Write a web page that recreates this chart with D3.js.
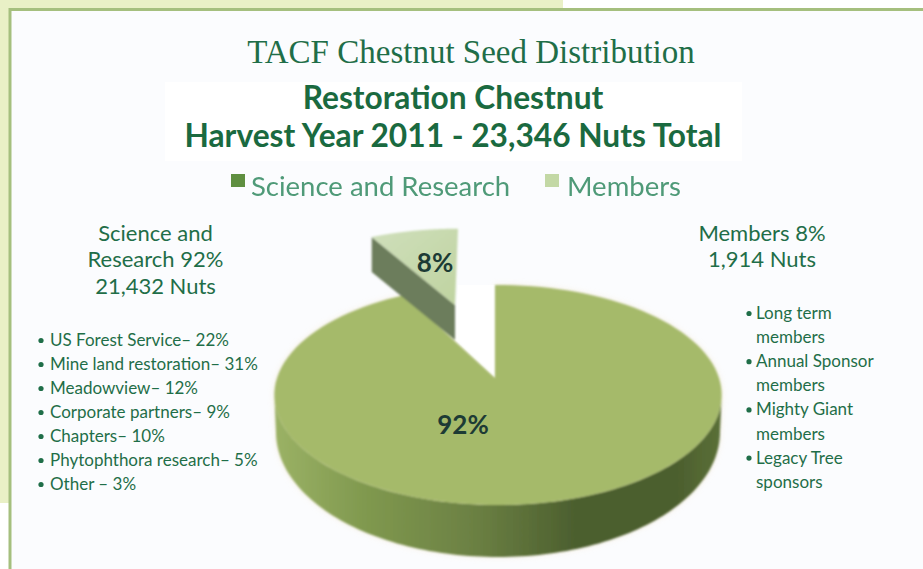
<!DOCTYPE html>
<html><head><meta charset="utf-8">
<script src="https://cdn.jsdelivr.net/npm/d3@7/dist/d3.min.js"></script>
<style>html,body{margin:0;padding:0;background:#fff;overflow:hidden}svg{display:block}text{font-family:Lato,sans-serif;fill:#1f6e48}</style>
</head><body><svg id="c" width="923" height="569"></svg>
<script>
const chartTitle = "TACF Chestnut Seed Distribution";
const subtitleLines = ["Restoration Chestnut", "Harvest Year 2011 - 23,346 Nuts Total"];
const categories = ["Science and Research", "Members"];
const sliceValues = [92, 8];
const sliceLabels = ["92%", "8%"];
const leftHeading = ["Science and", "Research 92%", "21,432 Nuts"];
const rightHeading = ["Members 8%", "1,914 Nuts"];
const leftItems = ["US Forest Service\u2013 22%", "Mine land restoration\u2013 31%", "Meadowview\u2013 12%", "Corporate partners\u2013 9%", "Chapters\u2013 10%", "Phytophthora research\u2013 5%", "Other \u2013 3%"];
const rightItems = [["Long term","members"],["Annual Sponsor","members"],["Mighty Giant","members"],["Legacy Tree","sponsors"]];

const svg = d3.select("#c");
const defs = svg.append("defs");
const soft = defs.append("filter").attr("id","soft").attr("x","-5%").attr("y","-5%").attr("width","110%").attr("height","110%");
soft.append("feGaussianBlur").attr("stdDeviation",0.8);
const glow = defs.append("filter").attr("id","glow").attr("x","-5%").attr("y","-8%").attr("width","110%").attr("height","116%");
glow.append("feGaussianBlur").attr("stdDeviation",3);
const halo = defs.append("filter").attr("id","legendBlur").attr("x","-5%").attr("y","-30%").attr("width","110%").attr("height","160%");
halo.append("feGaussianBlur").attr("stdDeviation",0.55);
const wall = defs.append("linearGradient").attr("id","wall").attr("gradientUnits","userSpaceOnUse")
  .attr("x1",274).attr("x2",722).attr("y1",0).attr("y2",0);
[[0,"#9bb265"],[0.2,"#80994f"],[0.45,"#6b8043"],[0.68,"#4b5e2e"],[0.9,"#4c5f2e"],[1,"#5b7038"]]
  .forEach(([o,c])=>wall.append("stop").attr("offset",o).attr("stop-color",c));
const face8 = defs.append("linearGradient").attr("id","face8").attr("x1",0).attr("x2",1).attr("y1",0).attr("y2",1);
[[0,"#cfdfbb"],[1,"#bfd3a0"]].forEach(([o,c])=>face8.append("stop").attr("offset",o).attr("stop-color",c));

// page background, frame
svg.append("rect").attr("x",0).attr("y",0).attr("width",563).attr("height",503).attr("fill","#e9f0c6");
svg.append("rect").attr("x",9).attr("y",9).attr("width",914).attr("height",560).attr("fill","#fbfcfe");
svg.append("path").attr("d","M10,569V9.5H923").attr("fill","none").attr("stroke","#a5bf7e").attr("stroke-width",3);
svg.append("rect").attr("x",165).attr("y",82).attr("width",577).attr("height",79).attr("fill","#fff");

// titles
svg.append("text").text(chartTitle).attr("x",471).attr("y",63).attr("text-anchor","middle")
  .style("font-family","'Liberation Serif',serif").style("font-size","33px").style("fill","#1f6e48");
svg.selectAll(".sub").data(subtitleLines).join("text").attr("class","sub").text(d=>d)
  .attr("x",453).attr("y",(d,i)=>[109,147][i]).attr("text-anchor","middle")
  .style("font-size","31.7px").style("font-weight",700).style("fill","#1a6a40");

// legend
const legend = svg.append("g").attr("filter","url(#legendBlur)");
const legendX = [231,545], legendTextX=[251,567], legendCols=["#5f8f3f","#c3d8a5"];
legend.selectAll("rect").data(categories).join("rect")
  .attr("x",(d,i)=>legendX[i]).attr("y",174).attr("width",14).attr("height",13).attr("fill",(d,i)=>legendCols[i]);
legend.selectAll("text").data(categories).join("text").text(d=>d)
  .attr("x",(d,i)=>legendTextX[i]).attr("y",196).style("font-size","27.5px").style("fill","#4f9a78");

// pie geometry from d3.pie angles with a perspective projection
const pie = d3.pie().value(d=>d).sort(null).startAngle(0).endAngle(2*Math.PI)(sliceValues);
const R=221, P=0.1545, Q=107.4;
const project=(a)=>{const v=-Math.cos(a), u=Math.sin(a);return [R*u/(1-P*v), Q*v/(1-P*v)];};
const line=d3.line().x(d=>d[0]).y(d=>d[1]);
const rim=(a0,a1,ox,oy,sx=1,sy=1)=>d3.range(0,121).map(i=>{const p=project(a0+(a1-a0)*i/120);return [ox+p[0]*sx, oy+p[1]*sy];});
const big=pie[0], small=pie[1];
const apex=[495,378], shiftX=3;
const sApex=[455,305], sd=35;
const sRim=rim(small.startAngle,small.endAngle,sApex[0]+3,sApex[1],0.92,0.82);
const sFirst=sRim[0];

// outer shell of the pie, extruded
const widest=Math.asin(P);
const front=rim(Math.PI/2+widest,3*Math.PI/2-widest,apex[0]+shiftX,apex[1]);
const lowerRim=d3.range(0,121).map(i=>{
  const t=Math.PI*i/120; return [apex[0]+shiftX+222*Math.cos(t), 432+125*Math.sin(t)];});
const wallD=line(front)+"L"+lowerRim.slice().reverse().map(d=>d.join(",")).join("L")+"Z";
const bigRim=rim(big.startAngle-0.0156,big.endAngle,apex[0]+shiftX,apex[1]);
const topD=line([apex].concat(bigRim))+"Z";

// faint warm halo
const haloG=svg.append("g").attr("opacity",0.55).attr("filter","url(#glow)");
haloG.append("path").attr("fill","#f3e3c8").attr("d",wallD);
haloG.append("path").attr("fill","#f3e3c8").attr("d",topD);
// keep the notch between the slices clean
svg.append("path").attr("fill","#fff")
  .attr("d",line([apex,[apex[0],285],[sApex[0]+3,285],[sApex[0],sApex[1]+sd]])+"Z");

const pieG=svg.append("g").attr("filter","url(#soft)");
pieG.append("path").attr("fill","url(#wall)").attr("d",wallD);
pieG.append("path").attr("fill","#a5ba6b").attr("d",topD);
pieG.append("path").attr("fill","#6c7d5c")
  .attr("d",line([sFirst,sApex,[sApex[0],sApex[1]+sd],[sFirst[0],sFirst[1]+sd]])+"Z");
pieG.append("path").attr("fill","url(#face8)").attr("d",line([sApex].concat(sRim))+"Z");

// data labels
svg.selectAll(".lab").data(sliceLabels).join("text").attr("class","lab").text(d=>d)
  .attr("x",(d,i)=>[463,435][i]).attr("y",(d,i)=>[434,272][i]).attr("text-anchor","middle")
  .style("font-size","26px").style("font-weight",700).style("fill","#1d3b35");

// headings
const headingSize="22px";
svg.selectAll(".lh").data(leftHeading).join("text").attr("class","lh").text(d=>d)
  .attr("x",155.5).attr("y",(d,i)=>241+i*26.3).attr("text-anchor","middle").style("font-size",headingSize);
svg.selectAll(".rh").data(rightHeading).join("text").attr("class","rh").text(d=>d)
  .attr("x",762).attr("y",(d,i)=>241+i*26.3).attr("text-anchor","middle").style("font-size",headingSize);

// bullet lists
const ls="17px";
const lg=svg.append("g");
leftItems.forEach((t,i)=>{
  const y=346+i*24;
  lg.append("circle").attr("cx",41).attr("cy",y-5.5).attr("r",2.6).attr("fill","#1f6e48");
  lg.append("text").text(t).attr("x",50).attr("y",y).style("font-size",ls);
});
const rg=svg.append("g");
let n=0;
rightItems.forEach(item=>{
  item.forEach((t,j)=>{
    const y=319+n*24.1;
    if(j===0) rg.append("circle").attr("cx",749).attr("cy",y-5.5).attr("r",2.6).attr("fill","#1f6e48");
    rg.append("text").text(t).attr("x",756).attr("y",y).style("font-size",ls);
    n++;
  });
});
</script></body></html>
